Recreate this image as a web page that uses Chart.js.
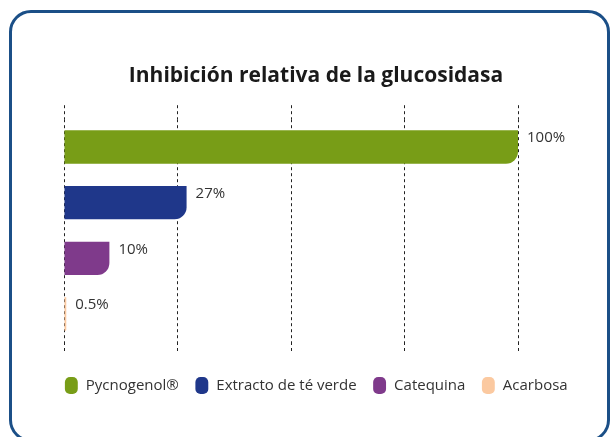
<!DOCTYPE html>
<html>
<head>
<meta charset="utf-8">
<script src="https://cdn.jsdelivr.net/npm/chart.js@4.4.1/dist/chart.umd.min.js"></script>
<style>
  html, body { margin: 0; padding: 0; background: #fff; }
  #wrap { position: relative; width: 612px; height: 437px; overflow: hidden; }
  #frame {
    position: absolute; left: 9px; top: 10px; width: 595px; height: 426px;
    border: 3px solid #1b4f87; border-radius: 22px;
  }
  #c { position: absolute; left: 0; top: 0; }
</style>
</head>
<body>
<div id="wrap">
  <div id="frame"></div>
  <canvas id="c" width="612" height="437"></canvas>
</div>
<script>
// Chart data
var categories = ["Pycnogenol®", "Extracto de té verde", "Catequina", "Acarbosa"];
var values = [100, 27, 10, 0.5];
var valueLabels = ["100%", "27%", "10%", "0.5%"];
var colors = ["#789d17", "#1f378a", "#7f3a8b", "#fbc9a0"];
var xTicks = [0, 25, 50, 75, 100];

var FONT = "'Open Sans', 'Noto Sans', sans-serif";

// value labels next to the bar ends
var valueLabelPlugin = {
    id: "valueLabels",
    afterDatasetsDraw: function(chart) {
        var ctx = chart.ctx;
        var meta = chart.getDatasetMeta(0);
        ctx.save();
        ctx.font = "15px " + FONT;
        ctx.fillStyle = "#333333";
        ctx.textBaseline = "middle";
        ctx.textAlign = "left";
        meta.data.forEach(function(bar, i) {
            ctx.fillText(valueLabels[i], bar.x + 9, bar.y - 9);
        });
        ctx.restore();
    }
};

var gridOpts = {
    color: "#222222",
    lineWidth: 1,
    drawTicks: true,
    tickBorderDash: [3, 3],
    tickColor: "#222222"
};

var ctx = document.getElementById("c");

var chartData = {
    labels: categories,
    datasets: [{
        data: values,
        backgroundColor: colors,
        borderRadius: { bottomRight: 12 },
        borderSkipped: "start",
        barPercentage: 0.6,
        categoryPercentage: 1.0
    }]
};

var chartOptions = {
    responsive: false,
    animation: false,
    indexAxis: "y",
    layout: { padding: { left: 20, right: 0, top: 0, bottom: 34 } },
    plugins: {
        title: {
            display: true,
            text: "Inhibición relativa de la glucosidasa",
            color: "#1a1a1a",
            font: { family: FONT, size: 21, weight: "bold" },
            padding: { top: 63, bottom: 17 }
        },
        legend: {
            position: "bottom",
            title: { display: true, text: " ", font: { size: 1 }, padding: { top: 4, bottom: 4 } },
            labels: {
                usePointStyle: true,
                pointStyle: "rectRounded",
                boxWidth: 14,
                boxHeight: 14,
                pointStyleWidth: 14,
                padding: 16,
                color: "#333333",
                font: { family: FONT, size: 15 },
                generateLabels: function(chart) {
                    return categories.map(function(c, i) {
                        return {
                            text: c, fillStyle: colors[i], strokeStyle: colors[i],
                            fontColor: "#333333",
                            lineWidth: 0, pointStyle: "rectRounded", index: i
                        };
                    });
                }
            }
        },
        tooltip: { enabled: false }
    },
    scales: {
        x: {
            type: "linear", position: "bottom", min: 0, max: 100,
            afterBuildTicks: function(s) { s.ticks = xTicks.map(function(v) { return { value: v }; }); },
            ticks: { display: false },
            grid: Object.assign({}, gridOpts, { tickLength: 11 }),
            border: { display: false, dash: [3, 3] }
        },
        xTop: {
            type: "linear", position: "top", min: 0, max: 100,
            afterBuildTicks: function(s) { s.ticks = xTicks.map(function(v) { return { value: v }; }); },
            ticks: { display: false },
            grid: Object.assign({}, gridOpts, { tickLength: 14, drawOnChartArea: false }),
            border: { display: false, dash: [3, 3] }
        },
        y: {
            type: "category", position: "left",
            ticks: { display: false },
            grid: { display: false },
            border: { display: false },
            afterFit: function(s) { s.width = 44; }
        },
        yRight: {
            type: "category", position: "right", labels: categories,
            ticks: { display: false },
            grid: { display: false },
            border: { display: false },
            afterFit: function(s) { s.width = 94; }
        }
    }
};

var barChart = new Chart(ctx, {
    type: "bar",
    data: chartData,
    options: chartOptions,
    plugins: [valueLabelPlugin]
});
</script>
</body>
</html>
